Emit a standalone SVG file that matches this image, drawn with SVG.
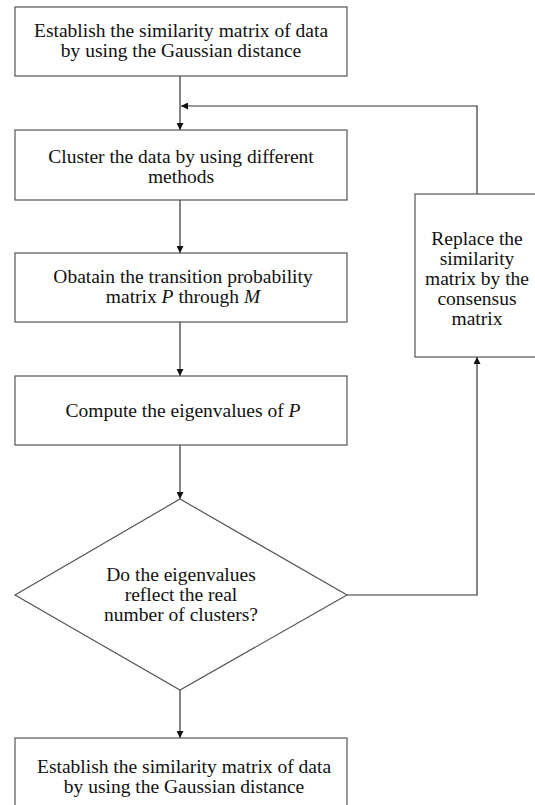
<svg xmlns="http://www.w3.org/2000/svg" width="535" height="805" viewBox="0 0 535 805">
<style>
.box{fill:#fff;stroke:#555;stroke-width:1.2}
.ln{fill:none;stroke:#333;stroke-width:1.2}
text{font-family:"Liberation Serif","Times New Roman",serif;font-size:19.5px;fill:#111;text-anchor:middle}
</style>
<defs>
<marker id="ah" viewBox="0 0 10 10" refX="10" refY="5" markerWidth="7" markerHeight="7" markerUnits="userSpaceOnUse" orient="auto">
<path d="M0,0 L10,5 L0,10 z" fill="#111"/>
</marker>
</defs>
<rect width="535" height="805" fill="#fff"/>
<g id="connectors">
<line class="ln" x1="180" y1="76" x2="180" y2="130" marker-end="url(#ah)"/>
<line class="ln" x1="180" y1="200" x2="180" y2="253" marker-end="url(#ah)"/>
<line class="ln" x1="180" y1="322" x2="180" y2="376" marker-end="url(#ah)"/>
<line class="ln" x1="180" y1="445" x2="180" y2="499" marker-end="url(#ah)"/>
<line class="ln" x1="180" y1="690" x2="180" y2="738" marker-end="url(#ah)"/>
<polyline class="ln" points="347,595 477,595 477,357" marker-end="url(#ah)"/>
<polyline class="ln" points="477,194 477,106 181,106" marker-end="url(#ah)"/>
</g>
<g id="n1">
<rect class="box" x="15" y="7" width="332" height="69"/>
<text x="181" y="36.5">Establish the similarity matrix of data</text>
<text x="181" y="56.5">by using the Gaussian distance</text>
</g>
<g id="n2">
<rect class="box" x="15" y="130" width="332" height="70"/>
<text x="181" y="162.5">Cluster the data by using different</text>
<text x="181" y="182.5">methods</text>
</g>
<g id="n3">
<rect class="box" x="15" y="253" width="332" height="69"/>
<text x="183" y="282.5">Obatain the transition probability</text>
<text x="183" y="302.5">matrix <tspan font-style="italic">P</tspan> through <tspan font-style="italic">M</tspan></text>
</g>
<g id="n4">
<rect class="box" x="15" y="376" width="332" height="69"/>
<text x="183" y="417">Compute the eigenvalues of <tspan font-style="italic">P</tspan></text>
</g>
<g id="n5">
<polygon class="box" points="180,499 347,595 180,690 15,595"/>
<text x="181" y="580.5">Do the eigenvalues</text>
<text x="181" y="600.5">reflect the real</text>
<text x="181" y="620.5">number of clusters?</text>
</g>
<g id="n6">
<rect class="box" x="415" y="194" width="125" height="163"/>
<text x="477" y="245">Replace the</text>
<text x="477" y="265">similarity</text>
<text x="477" y="285">matrix by the</text>
<text x="477" y="305">consensus</text>
<text x="477" y="325">matrix</text>
</g>
<g id="n7">
<rect class="box" x="15" y="738" width="332" height="80"/>
<text x="184" y="772.5">Establish the similarity matrix of data</text>
<text x="184" y="792.5">by using the Gaussian distance</text>
</g>
</svg>
